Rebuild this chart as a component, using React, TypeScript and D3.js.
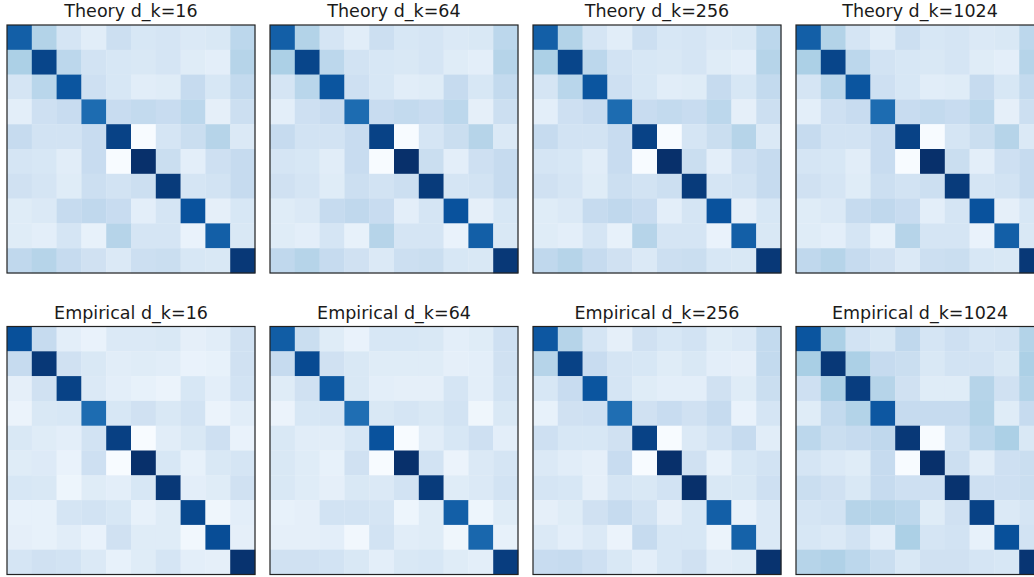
import React from "react";
import * as d3 from "d3";

// Titles
const TOP_TITLES = ["Theory d_k=16", "Theory d_k=64", "Theory d_k=256", "Theory d_k=1024"];
const BOTTOM_TITLES = ["Empirical d_k=16", "Empirical d_k=64", "Empirical d_k=256", "Empirical d_k=1024"];

// Normalised similarity values (0 = lightest, 1 = darkest)
const THEORY: number[][] = [
  [0.82, 0.31, 0.17, 0.11, 0.22, 0.16, 0.17, 0.14, 0.15, 0.28],
  [0.33, 0.92, 0.28, 0.19, 0.16, 0.15, 0.17, 0.12, 0.10, 0.30],
  [0.17, 0.29, 0.86, 0.21, 0.16, 0.11, 0.12, 0.25, 0.16, 0.26],
  [0.10, 0.21, 0.24, 0.77, 0.24, 0.26, 0.24, 0.28, 0.09, 0.22],
  [0.25, 0.19, 0.19, 0.24, 0.93, 0.00, 0.17, 0.23, 0.30, 0.14],
  [0.17, 0.16, 0.11, 0.24, 0.00, 1.00, 0.23, 0.10, 0.21, 0.25],
  [0.20, 0.17, 0.12, 0.22, 0.19, 0.22, 0.96, 0.17, 0.19, 0.25],
  [0.12, 0.14, 0.25, 0.27, 0.24, 0.10, 0.17, 0.87, 0.09, 0.16],
  [0.12, 0.10, 0.17, 0.08, 0.30, 0.17, 0.17, 0.07, 0.82, 0.15],
  [0.27, 0.30, 0.25, 0.20, 0.14, 0.22, 0.23, 0.16, 0.15, 0.97],
];

const EMP_16: number[][] = [
  [0.88, 0.25, 0.10, 0.07, 0.14, 0.14, 0.15, 0.09, 0.11, 0.20],
  [0.25, 0.97, 0.20, 0.15, 0.11, 0.12, 0.11, 0.07, 0.08, 0.20],
  [0.09, 0.20, 0.93, 0.14, 0.10, 0.08, 0.06, 0.16, 0.10, 0.19],
  [0.06, 0.15, 0.16, 0.77, 0.16, 0.20, 0.15, 0.19, 0.06, 0.11],
  [0.15, 0.12, 0.10, 0.19, 0.94, 0.00, 0.11, 0.15, 0.21, 0.07],
  [0.12, 0.13, 0.07, 0.21, 0.00, 1.00, 0.16, 0.08, 0.15, 0.17],
  [0.16, 0.15, 0.05, 0.12, 0.10, 0.16, 0.97, 0.10, 0.12, 0.20],
  [0.08, 0.08, 0.17, 0.19, 0.16, 0.08, 0.12, 0.91, 0.04, 0.10],
  [0.09, 0.08, 0.11, 0.07, 0.20, 0.12, 0.12, 0.03, 0.89, 0.09],
  [0.17, 0.20, 0.19, 0.14, 0.08, 0.12, 0.17, 0.10, 0.09, 0.99],
];

const EMP_64: number[][] = [
  [0.83, 0.23, 0.12, 0.07, 0.16, 0.16, 0.15, 0.10, 0.12, 0.21],
  [0.25, 0.90, 0.20, 0.15, 0.12, 0.12, 0.12, 0.09, 0.10, 0.20],
  [0.12, 0.20, 0.84, 0.15, 0.10, 0.09, 0.09, 0.17, 0.10, 0.19],
  [0.06, 0.16, 0.17, 0.76, 0.15, 0.17, 0.15, 0.19, 0.04, 0.15],
  [0.15, 0.11, 0.11, 0.16, 0.87, 0.00, 0.11, 0.16, 0.21, 0.10],
  [0.15, 0.12, 0.08, 0.20, 0.00, 1.00, 0.19, 0.06, 0.14, 0.17],
  [0.15, 0.12, 0.09, 0.15, 0.14, 0.19, 0.96, 0.12, 0.14, 0.19],
  [0.08, 0.09, 0.19, 0.19, 0.17, 0.05, 0.12, 0.82, 0.05, 0.12],
  [0.09, 0.09, 0.10, 0.03, 0.19, 0.11, 0.12, 0.04, 0.79, 0.08],
  [0.20, 0.20, 0.19, 0.15, 0.10, 0.15, 0.16, 0.12, 0.10, 0.95],
];

const EMP_256: number[][] = [
  [0.85, 0.30, 0.17, 0.09, 0.20, 0.16, 0.19, 0.12, 0.14, 0.26],
  [0.30, 0.93, 0.24, 0.17, 0.16, 0.12, 0.15, 0.10, 0.09, 0.26],
  [0.16, 0.24, 0.86, 0.17, 0.12, 0.10, 0.10, 0.20, 0.12, 0.23],
  [0.08, 0.20, 0.21, 0.76, 0.20, 0.24, 0.20, 0.25, 0.07, 0.17],
  [0.21, 0.16, 0.16, 0.20, 0.93, 0.00, 0.14, 0.19, 0.25, 0.11],
  [0.14, 0.11, 0.09, 0.24, 0.00, 1.00, 0.20, 0.08, 0.16, 0.19],
  [0.17, 0.16, 0.09, 0.17, 0.15, 0.19, 1.00, 0.15, 0.15, 0.21],
  [0.09, 0.12, 0.20, 0.25, 0.19, 0.09, 0.16, 0.82, 0.08, 0.14],
  [0.14, 0.10, 0.14, 0.06, 0.25, 0.16, 0.16, 0.06, 0.81, 0.14],
  [0.24, 0.25, 0.21, 0.15, 0.10, 0.16, 0.20, 0.11, 0.12, 0.99],
];

const EMP_1024: number[][] = [
  [0.86, 0.33, 0.19, 0.15, 0.27, 0.17, 0.21, 0.17, 0.19, 0.31],
  [0.34, 0.97, 0.33, 0.25, 0.23, 0.15, 0.19, 0.19, 0.15, 0.33],
  [0.21, 0.33, 0.95, 0.30, 0.20, 0.12, 0.12, 0.30, 0.20, 0.31],
  [0.12, 0.26, 0.31, 0.85, 0.25, 0.25, 0.25, 0.31, 0.12, 0.25],
  [0.28, 0.23, 0.25, 0.27, 0.97, 0.00, 0.19, 0.28, 0.33, 0.15],
  [0.17, 0.14, 0.12, 0.25, 0.00, 1.00, 0.22, 0.11, 0.21, 0.23],
  [0.23, 0.20, 0.15, 0.25, 0.21, 0.21, 0.99, 0.21, 0.21, 0.23],
  [0.17, 0.19, 0.30, 0.30, 0.28, 0.12, 0.20, 0.93, 0.14, 0.17],
  [0.16, 0.14, 0.19, 0.10, 0.33, 0.17, 0.19, 0.08, 0.88, 0.19],
  [0.30, 0.32, 0.28, 0.23, 0.15, 0.20, 0.20, 0.17, 0.16, 0.98],
];

const TOP_DATA = [THEORY, THEORY, THEORY, THEORY];
const BOTTOM_DATA = [EMP_16, EMP_64, EMP_256, EMP_1024];

// matplotlib "Blues" colormap stops
const BLUES = ["#f7fbff", "#deebf7", "#c6dbef", "#9ecae1", "#6baed6", "#4292c6", "#2171b5", "#08519c", "#08306b"];

const W = 1034;
const H = 577;
const PANEL = 248;
const PANEL_X = [7, 270, 533, 796];
const ROW_Y = [25, 326.5];

const color = d3
  .scaleLinear<string>()
  .domain(BLUES.map((_, i) => i / (BLUES.length - 1)))
  .range(BLUES)
  .clamp(true);

const idx = d3.range(10);
const band = d3.scaleBand<number>().domain(idx).range([0, PANEL]).paddingInner(0).paddingOuter(0);

function Panel({ x, y, title, data }: { x: number; y: number; title: string; data: number[][] }) {
  return (
    <g transform={`translate(${x},${y})`}>
      <text
        x={PANEL / 2}
        y={-8}
        textAnchor="middle"
        fontFamily="DejaVu Sans, sans-serif"
        fontSize={17.5}
        fill="#1a1a1a"
      >
        {title}
      </text>
      {data.map((row, i) =>
        row.map((v, j) => (
          <rect
            key={`${i}-${j}`}
            x={band(j)!}
            y={band(i)!}
            width={band.bandwidth() + 0.3}
            height={band.bandwidth() + 0.3}
            fill={color(v)}
          />
        ))
      )}
      <rect x={0} y={0} width={PANEL} height={PANEL} fill="none" stroke="#222" strokeWidth={1.2} />
    </g>
  );
}

export default function App() {
  return (
    <svg
      width={W}
      height={H}
      viewBox={`0 0 ${W} ${H}`}
      style={{ position: "absolute", left: 0, top: 0, display: "block", background: "#fff" }}
    >
      <rect x={0} y={0} width={W} height={H} fill="#fff" />
      {TOP_TITLES.map((t, k) => (
        <Panel key={`t${k}`} x={PANEL_X[k]} y={ROW_Y[0]} title={t} data={TOP_DATA[k]} />
      ))}
      {BOTTOM_TITLES.map((t, k) => (
        <Panel key={`b${k}`} x={PANEL_X[k]} y={ROW_Y[1]} title={t} data={BOTTOM_DATA[k]} />
      ))}
    </svg>
  );
}
